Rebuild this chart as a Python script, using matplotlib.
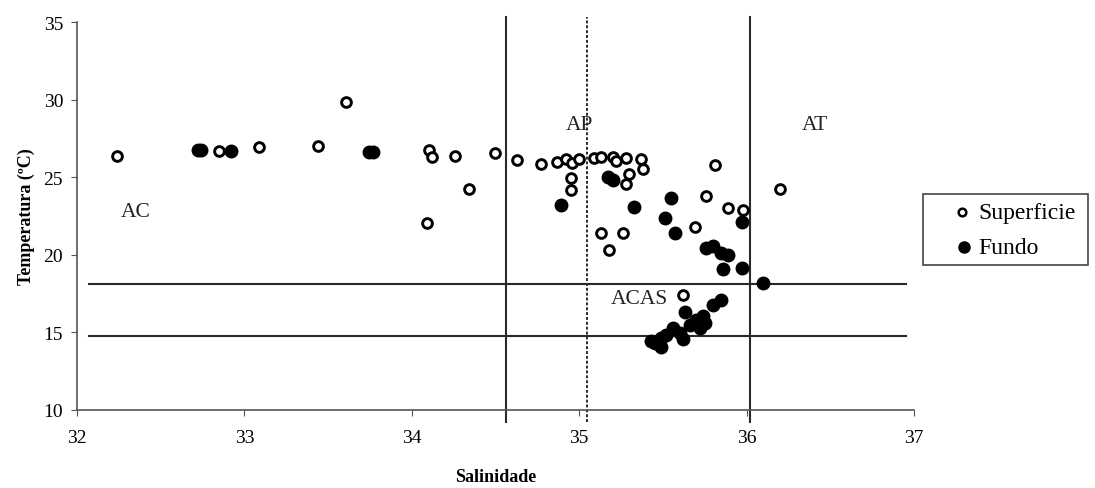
import matplotlib.pyplot as plt
from matplotlib.patches import Rectangle
import numpy as np

plt.rcParams['font.family'] = ['Liberation Serif', 'DejaVu Serif']

# superficie (open circles): salinidade, temperatura
sal_sup = [32.24, 32.85, 33.09, 33.44, 33.61, 34.10, 34.12, 34.26, 34.50, 34.34,
           34.09, 34.63, 34.77, 34.87, 34.92, 34.96, 35.00, 34.95, 34.95, 35.09,
           35.13, 35.20, 35.22, 35.28, 35.37, 35.38, 35.30, 35.28, 35.13, 35.26,
           35.18, 35.69, 35.81, 36.20, 35.76, 35.89, 35.98, 35.62]
temp_sup = [26.38, 26.68, 26.96, 27.02, 29.87, 26.75, 26.34, 26.38, 26.60, 24.27,
            22.07, 26.12, 25.89, 26.00, 26.16, 25.90, 26.20, 24.94, 24.20, 26.23,
            26.31, 26.34, 26.08, 26.25, 26.18, 25.52, 25.24, 24.59, 21.40, 21.42,
            20.30, 21.79, 25.80, 24.24, 23.79, 23.02, 22.91, 17.39]

# fundo (filled circles)
sal_fun = [32.72, 32.74, 32.92, 33.745, 33.77, 34.89, 35.17, 35.20, 35.33, 35.55,
           35.51, 35.57, 35.97, 35.76, 35.80, 35.85, 35.89, 35.86, 35.97, 36.10,
           35.85, 35.80, 35.63, 35.74, 35.70, 35.75, 35.66, 35.72, 35.56, 35.60,
           35.62, 35.52, 35.49, 35.45, 35.49, 35.43]
temp_fun = [26.75, 26.75, 26.73, 26.66, 26.66, 23.20, 25.02, 24.83, 23.08, 23.66,
            22.41, 21.40, 22.11, 20.46, 20.56, 20.13, 19.98, 19.10, 19.14, 18.19,
            17.07, 16.77, 16.29, 16.03, 15.82, 15.61, 15.50, 15.28, 15.28, 14.96,
            14.57, 14.85, 14.64, 14.31, 14.06, 14.42]

# limites das massas d'agua
sal_lim = [34.56, 36.02]
sal_ap = 35.045
temp_lim = [18.15, 14.75]

massas = ['AC', 'AP', 'AT', 'ACAS']
massas_pos = [(32.26, 22.8), (34.92, 28.4), (36.33, 28.4), (35.19, 17.2)]

legenda = ['Superficie', 'Fundo']

fig = plt.figure(figsize=(10.95, 4.89), dpi=100)
ax = fig.add_axes([0.0703, 0.160, 0.7644, 0.792])

for s in sal_lim:
    ax.plot([s, s], [9.2, 35.35], color='#2a2a2a', lw=1.5, clip_on=False, zorder=1)
ax.plot([sal_ap, sal_ap], [9.2, 35.35], color='#2a2a2a', lw=1.4, ls=(0, (1.5, 1)),
        clip_on=False, zorder=1)
for t in temp_lim:
    ax.plot([32.07, 36.95], [t, t], color='#2a2a2a', lw=1.5, zorder=1)

ax.plot(sal_sup, temp_sup, 'o', ls='none', mfc='white', mec='black', ms=7, mew=2.1,
        zorder=3)
ax.plot(sal_fun, temp_fun, 'o', ls='none', color='black', ms=9, zorder=2)

for nome, (x, y) in zip(massas, massas_pos):
    ax.text(x, y, nome, fontsize=15.5, ha='left', va='center', color='#222222')

ax.set_xlim(32, 37)
ax.set_ylim(10, 35)
ax.set_xticks(np.arange(32, 38, 1))
ax.set_yticks(np.arange(10, 40, 5))
ax.tick_params(labelsize=14, direction='out', length=4, color='#555555', pad=6)
ax.tick_params(axis='x', pad=10)
for sp in ['top', 'right']:
    ax.spines[sp].set_visible(False)
for sp in ['left', 'bottom']:
    ax.spines[sp].set_color('#555555')
    ax.spines[sp].set_linewidth(1.2)

ax.set_xlabel('Salinidade', fontsize=13, fontweight='bold', labelpad=16)
ax.set_ylabel('Temperatura (ºC)', fontsize=13, fontweight='bold', labelpad=6)

# legenda desenhada a mao (caixa fora do grafico)
fig.patches.append(Rectangle((0.843, 0.456), 0.1505, 0.1452, transform=fig.transFigure,
                             fill=False, edgecolor='#444444', lw=1.2))
fig.lines.append(plt.Line2D([0.8785], [0.5644], transform=fig.transFigure, marker='o',
                            ls='none', mfc='white', mec='black', ms=5.5, mew=1.8))
fig.lines.append(plt.Line2D([0.8805], [0.4928], transform=fig.transFigure, marker='o',
                            ls='none', color='black', ms=8))
fig.text(0.8932, 0.5644, legenda[0], fontsize=17, va='center', ha='left')
fig.text(0.8932, 0.4928, legenda[1], fontsize=17, va='center', ha='left')

fig.savefig('out.png', dpi=100)
